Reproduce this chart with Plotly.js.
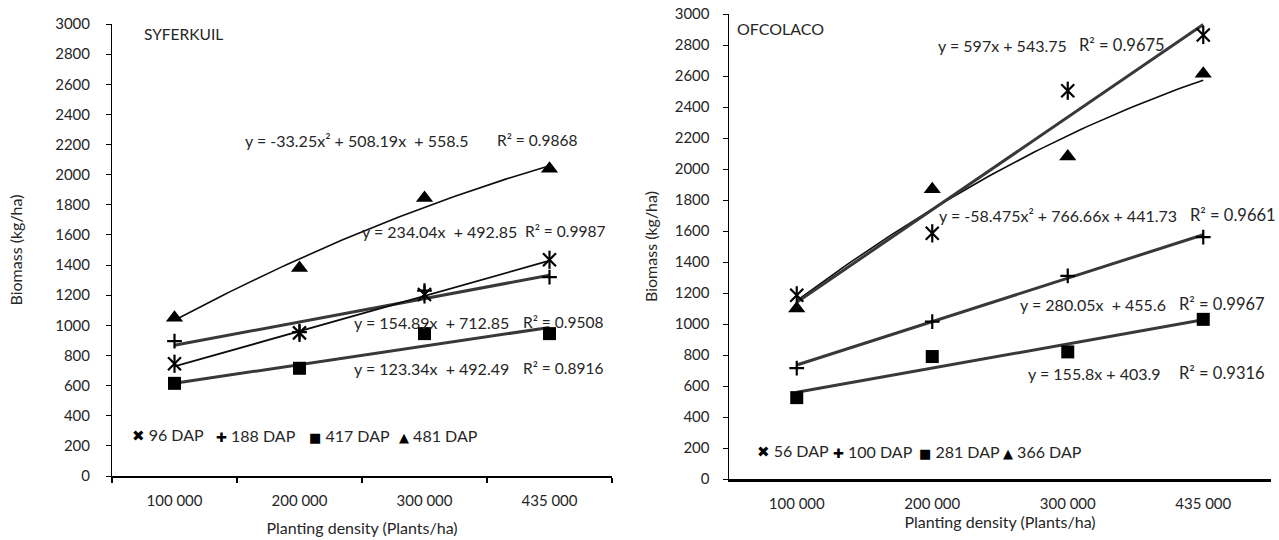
<!DOCTYPE html>
<html>
<head>
<meta charset="utf-8">
<script src="https://cdn.plot.ly/plotly-3.0.1.min.js"></script>
<style>html,body{margin:0;padding:0;background:#fff;}#chart{width:1279px;height:540px;}</style>
</head>
<body>
<div id="chart"></div>
<script>
// ---------- data ----------
const categories = ['100 000', '200 000', '300 000', '435 000'];
const catPos = [1, 2, 3, 4];

// SYFERKUIL (left)
const syfSeriesNames = ['96 DAP', '188 DAP', '417 DAP', '481 DAP'];
const syf96 = [745, 950, 1205, 1435];
const syf188 = [895, 955, 1230, 1320];
const syf417 = [615, 715, 945, 945];
const syf481 = [1050, 1380, 1845, 2040];
// trendline coefficients [a, b, c] for y = a x^2 + b x + c (as printed on chart)
const syf96Fit = [0, 234.04, 492.85];
const syf188Fit = [0, 154.89, 712.85];
const syf417Fit = [0, 123.34, 492.49];
const syf481Fit = [-33.25, 508.19, 558.5];
const syfEquations = [
  'y = 234.04x\u00a0 + 492.85', 'y = 154.89x\u00a0 + 712.85', 'y = 123.34x\u00a0 + 492.49', 'y = -33.25x\u00b2 + 508.19x\u00a0 + 558.5'
];
const syfR2 = ['R\u00b2 = 0.9987', 'R\u00b2 = 0.9508', 'R\u00b2 = 0.8916', 'R\u00b2 = 0.9868'];

// OFCOLACO (right)
const ofcSeriesNames = ['56 DAP', '100 DAP', '281 DAP', '366 DAP'];
const ofc56 = [1185, 1585, 2505, 2865];
const ofc100 = [715, 1015, 1310, 1560];
const ofc281 = [525, 790, 820, 1030];
const ofc366 = [1100, 1870, 2080, 2615];
const ofc56Fit = [0, 597, 543.75];
const ofc100Fit = [0, 280.05, 455.6];
const ofc281Fit = [0, 155.8, 403.9];
const ofc366Fit = [-58.475, 766.66, 441.73];
const ofcEquations = [
  'y = 597x + 543.75', 'y = 280.05x\u00a0 + 455.6', 'y = 155.8x + 403.9', 'y = -58.475x\u00b2 + 766.66x + 441.73'
];
const ofcR2 = ['R\u00b2 = 0.9675', 'R\u00b2 = 0.9967', 'R\u00b2 = 0.9316', 'R\u00b2 = 0.9661'];

// ---------- helpers ----------
const FONT = 'Lato, "Open Sans", "Liberation Sans", sans-serif';
const TXT = '#262626';
const W = 1279, H = 540;
const px = v => v / W;
const py = v => 1 - v / H;

function trend(coef) {
  const xs = [], ys = [];
  const n = 60, x0 = catPos[0], x1 = catPos[catPos.length - 1];
  for (let i = 0; i <= n; i++) {
    const x = x0 + (x1 - x0) * i / n;
    xs.push(x);
    ys.push(coef[0] * x * x + coef[1] * x + coef[2]);
  }
  return {xs, ys};
}
function lineTrace(coef, xa, ya, width, color) {
  const t = trend(coef);
  return {x: t.xs, y: t.ys, xaxis: xa, yaxis: ya, type: 'scatter', mode: 'lines',
    line: {color: color, width: width}, showlegend: false, hoverinfo: 'skip'};
}
function markTrace(vals, name, xa, ya, symbol, size, lw) {
  const open = symbol.indexOf('open') >= 0;
  return {x: catPos, y: vals, xaxis: xa, yaxis: ya, type: 'scatter', mode: 'markers', name: name,
    showlegend: false, cliponaxis: false,
    marker: {symbol: symbol, size: size, color: '#000',
      line: {color: '#000', width: open ? lw : 0}}};
}

const THICK = '#383838', THIN = '#0d0d0d';
const traces = [
  // left trendlines
  lineTrace(syf481Fit, 'x', 'y', 1.6, THIN),
  lineTrace(syf188Fit, 'x', 'y', 3, THICK),
  lineTrace(syf417Fit, 'x', 'y', 3, THICK),
  lineTrace(syf96Fit, 'x', 'y', 1.8, THIN),
  // left markers
  markTrace(syf96, syfSeriesNames[0], 'x', 'y', 'x-thin-open', 13, 2.2),
  markTrace(syf96, syfSeriesNames[0], 'x', 'y', 'line-ns-open', 13, 2.2),
  markTrace(syf188, syfSeriesNames[1], 'x', 'y', 'cross-thin-open', 10.5, 2.2),
  markTrace(syf417, syfSeriesNames[2], 'x', 'y', 'square', 13),
  markTrace(syf481, syfSeriesNames[3], 'x', 'y', 'triangle-up', 15),
  // right trendlines
  lineTrace(ofc366Fit, 'x2', 'y2', 1.6, THIN),
  lineTrace(ofc56Fit, 'x2', 'y2', 3, THICK),
  lineTrace(ofc100Fit, 'x2', 'y2', 3, THICK),
  lineTrace(ofc281Fit, 'x2', 'y2', 3, THICK),
  // right markers
  markTrace(ofc56, ofcSeriesNames[0], 'x2', 'y2', 'x-thin-open', 13, 2.2),
  markTrace(ofc56, ofcSeriesNames[0], 'x2', 'y2', 'line-ns-open', 13, 2.2),
  markTrace(ofc100, ofcSeriesNames[1], 'x2', 'y2', 'cross-thin-open', 10.5, 2.2),
  markTrace(ofc281, ofcSeriesNames[2], 'x2', 'y2', 'square', 13),
  markTrace(ofc366, ofcSeriesNames[3], 'x2', 'y2', 'triangle-up', 15)
];

const tickFont = {family: FONT, size: 15, color: TXT};
const titleFont = {family: FONT, size: 16, color: TXT};

function yAxis(domain, anchor, standoff, lw, lblOff) {
  return {domain: domain, anchor: anchor, range: [0, 3000], dtick: 200, tick0: 0,
    showgrid: false, zeroline: false, showline: true, linecolor: '#000', linewidth: lw,
    ticks: 'outside', ticklen: 5, tickwidth: 1, tickcolor: '#000', ticklabelstandoff: lblOff,
    tickfont: tickFont, fixedrange: true,
    title: {text: 'Biomass (kg/ha)', font: titleFont, standoff: standoff}};
}

const layout = {
  width: W, height: H,
  margin: {l: 0, r: 0, t: 0, b: 0},
  paper_bgcolor: '#fff', plot_bgcolor: 'rgba(0,0,0,0)',
  showlegend: false,
  xaxis: {domain: [px(112), px(612)], anchor: 'y', range: [0.5, 4.5],
    tickmode: 'array', tickvals: catPos, ticktext: categories, ticks: '',
    minor: {tickmode: 'linear', tick0: 0.5, dtick: 1, ticks: 'outside', ticklen: 5, tickwidth: 2, tickcolor: '#000'},
    showgrid: false, zeroline: false, showline: true, linecolor: '#000', linewidth: 2,
    ticklabelstandoff: 10, tickfont: tickFont, fixedrange: true,
    title: {text: 'Planting density (Plants/ha)', font: titleFont, standoff: 15}},
  yaxis: yAxis([py(476), py(24)], 'x', 28, 1, 13),
  xaxis2: {domain: [px(729), px(1271)], anchor: 'y2', range: [0.5, 4.5],
    tickmode: 'array', tickvals: catPos, ticktext: categories, ticks: '',
    showgrid: false, zeroline: false, showline: true, linecolor: '#000', linewidth: 2.5,
    ticklabelstandoff: 9, tickfont: tickFont, fixedrange: true,
    title: {text: 'Planting density (Plants/ha)', font: titleFont, standoff: 7}},
  yaxis2: yAxis([py(479), py(14)], 'x2', 13, 1.5, 10),
  annotations: []
};

function note(text, x, y, size, anchor) {
  layout.annotations.push({text: text, xref: 'paper', yref: 'paper', x: px(x), y: py(y),
    xanchor: anchor || 'left', yanchor: 'middle', showarrow: false,
    font: {family: FONT, size: size || 14, color: TXT}});
}

// site labels
note('SYFERKUIL', 142, 34, 15.5);
note('OFCOLACO', 735, 29, 16);

// equations: [main x, R2 x, y]
const syfEqPos = [[360, 523, 231], [352, 521, 322], [352, 521, 368], [243, 495, 140]];
syfEqPos.forEach((p, i) => { note(syfEquations[i], p[0], p[2], 16); note(syfR2[i], p[1], p[2], 15.5); });
const ofcEqPos = [[936, 1077, 45], [1018, 1177, 304], [1026, 1177, 373], [937, 1188, 215]];
ofcEqPos.forEach((p, i) => { note(ofcEquations[i], p[0], p[2], 16); note(ofcR2[i], p[1], p[2], 16.5); });

// legends (glyph + text)
const SYM = ['\u2716', '\u271a', '\u25a0', '\u25b2'];
const SYMSIZE = [15, 13, 13, 13];
function legendEntry(i, name, x, y, size) {
  note('<span style="font-family:DejaVu Sans;font-size:' + SYMSIZE[i] + 'px;color:#000">' + SYM[i] + '</span> ' + name, x, y, size);
}
const syfLegendX = [130, 214, 307, 397];
syfSeriesNames.forEach((n, i) => legendEntry(i, n, syfLegendX[i], 435, 16));
const ofcLegendX = [755, 831, 917, 1001];
ofcSeriesNames.forEach((n, i) => legendEntry(i, n, ofcLegendX[i], 451, 16));

Plotly.newPlot('chart', traces, layout, {staticPlot: true, displayModeBar: false});
</script>
</body>
</html>
